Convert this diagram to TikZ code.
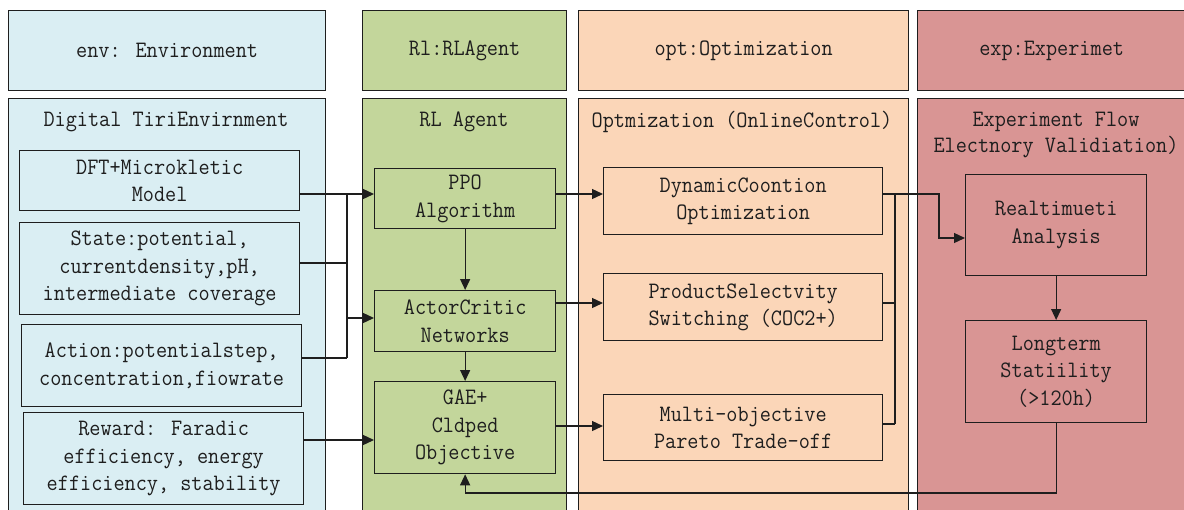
\documentclass[tikz,border=0pt]{standalone}
\usepackage{fontspec}
\newfontfamily\reffont{Latin Modern Mono}[FakeStretch=0.92]
\usetikzlibrary{arrows.meta}
\definecolor{cenv}{HTML}{DAEEF3}
\definecolor{crl}{HTML}{C3D69B}
\definecolor{copt}{HTML}{FBD6B8}
\definecolor{cexp}{HTML}{D99594}
\definecolor{cline}{HTML}{1E1E1E}
\tikzset{
  box/.style={draw=cline, line width=1.3pt, rectangle, inner sep=0pt, anchor=north west, align=center,
    font=\reffont\fontsize{23.5}{27.5}\selectfont, text=cline},
  ttl/.style={inner sep=0pt, align=center, font=\reffont\fontsize{23.5}{26}\selectfont, text=cline},
  conn/.style={draw=cline, line width=1.3pt},
  arr/.style={conn, -{Triangle[length=11pt,width=10pt]}},
}
\begin{document}
\begin{tikzpicture}[x=1pt,y=-1pt]
\useasboundingbox (0,0) rectangle (1184,509);
% header boxes
\node[box, fill=cenv, minimum width=317, minimum height=80] (henv) at (8,10) {env: Environment};
\node[box, fill=crl, minimum width=204, minimum height=80] (hrl) at (362,10) {Rl:RLAgent};
\node[box, fill=copt, minimum width=330, minimum height=80] (hopt) at (578,10) {opt:Optimization};
\node[box, fill=cexp, minimum width=268, minimum height=80, text width=268] (hexp) at (917,10) {exp:Experimet};
% main containers
\node[box, fill=cenv, minimum width=317, minimum height=430] (menv) at (8,98) {};
\node[box, fill=crl, minimum width=204, minimum height=430] (mrl) at (362,98) {};
\node[box, fill=copt, minimum width=330, minimum height=430] (mopt) at (578,98) {};
\node[box, fill=cexp, minimum width=300, minimum height=430] (mexp) at (917,98) {};
% titles
\node[ttl] (tenv) at (166,122) {Digital TiriEnvirnment};
\node[ttl] (trl) at (464,122) {RL Agent};
\node[ttl] (topt) at (742,122) {Optmization (OnlineControl)};
\node[ttl] (texp) at (1056,135) {Experiment Flow\\Electnory Validiation)};
% env inner
\node[box, fill=cenv, minimum width=280, minimum height=60] (dft) at (19,150) {DFT+Microkletic\\Model};
\node[box, fill=cenv, minimum width=280, minimum height=92] (state) at (19,222) {State:potential,\\currentdensity,pH,\\intermediate coverage};
\node[box, fill=cenv, minimum width=280, minimum height=82] (action) at (21,324) {Action:potentialstep,\\concentration,fiowrate};
\node[box, fill=cenv, minimum width=280, minimum height=92] (reward) at (23,412) {Reward: Faradic\\efficiency, energy\\efficiency, stability};
% rl inner
\node[box, fill=crl, minimum width=181, minimum height=60] (ppo) at (374,168) {PPO\\Algorithm};
\node[box, fill=crl, minimum width=181, minimum height=61] (ac) at (374,290) {ActorCritic\\Networks};
\node[box, fill=crl, minimum width=181, minimum height=92] (gae) at (374,381) {GAE+\\Cldped\\Objective};
% opt inner
\node[box, fill=copt, minimum width=279, minimum height=67] (dyn) at (603,167) {DynamicCoontion\\Optimization};
\node[box, fill=copt, minimum width=279, minimum height=67] (prod) at (603,273) {ProductSelectvity\\Switching (COC2+)};
\node[box, fill=copt, minimum width=279, minimum height=66] (multi) at (603,394) {Multi-objective\\Pareto Trade-off};
% exp inner
\node[box, fill=cexp, minimum width=181, minimum height=101] (rt) at (965,174) {Realtimueti\\Analysis};
\node[box, fill=cexp, minimum width=181, minimum height=102] (lt) at (965,320) {Longterm\\Statiility\\(>120h)};
% helper coordinates
\coordinate (r1) at (0,194);
\coordinate (r2) at (0,263);
\coordinate (r3) at (0,358);
\coordinate (r4) at (0,318);
\coordinate (r5) at (0,440);
\coordinate (r6) at (0,303);
\coordinate (r7) at (0,426);
\coordinate (r8) at (0,424);
\coordinate (r9) at (0,493);
\coordinate (rA) at (0,238);
\coordinate (bx) at (347,0);
\coordinate (bx2) at (895,0);
\coordinate (bx3) at (939,0);
% connectors env -> rl
\draw[arr] (dft.east |- r1) -- (ppo.west |- r1);
\draw[conn] (bx |- r1) -- (bx |- r3);
\draw[conn] (state.east |- r2) -- (bx |- r2);
\draw[conn] (action.east |- r3) -- (bx |- r3);
\draw[arr] (bx |- r4) -- (ac.west |- r4);
\draw[arr] (reward.east |- r5) -- (gae.west |- r5);
% rl internal
\draw[arr] (ppo.south) -- (ac.north);
\draw[arr] (ac.south) -- (gae.north);
% rl -> opt
\draw[arr] (ppo.east |- r1) -- (dyn.west |- r1);
\draw[arr] (ac.east |- r6) -- (prod.west |- r6);
\draw[arr] (gae.east |- r7) -- (multi.west |- r7);
% opt -> exp
\draw[arr] (dyn.east |- r1) -- (bx3 |- r1) -- (bx3 |- rA) -- (rt.west |- rA);
\draw[conn] (bx2 |- r1) -- (bx2 |- r8);
\draw[conn] (prod.east |- r6) -- (bx2 |- r6);
\draw[conn] (multi.east |- r8) -- (bx2 |- r8);
% exp internal
\draw[arr] (rt.south) -- (lt.north);
% feedback
\draw[arr] (lt.south) -- (lt.south |- r9) -- (gae.south |- r9) -- (gae.south);
\end{tikzpicture}
\end{document}
